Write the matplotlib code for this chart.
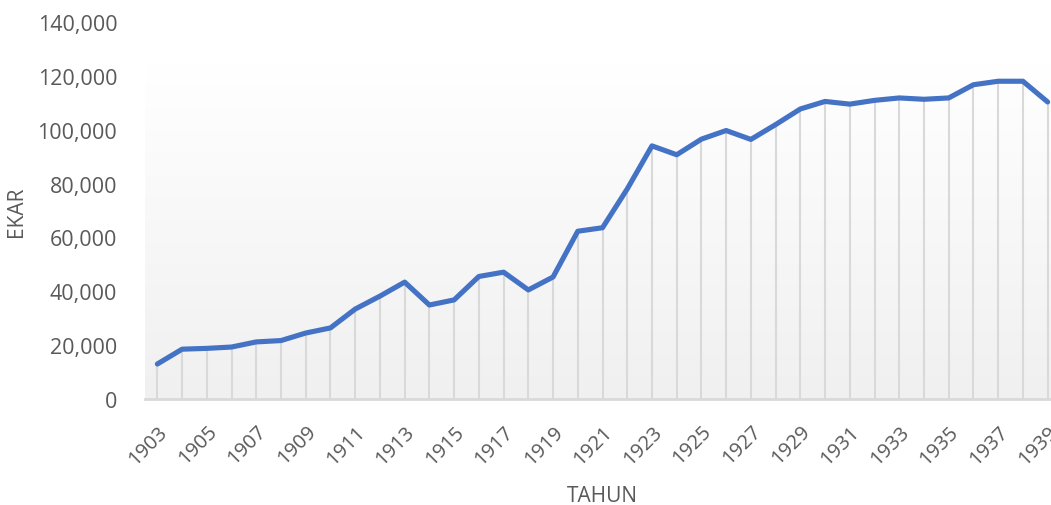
import numpy as np
import matplotlib
matplotlib.use('Agg')
import matplotlib.pyplot as plt
import matplotlib.transforms as mtransforms
from matplotlib.ticker import FuncFormatter
from matplotlib.colors import LinearSegmentedColormap

# data
years = list(range(1903, 1940))
ekar = [13000, 18500, 18800, 19300, 21200, 21700, 24500, 26400, 33400, 38200,
        43400, 34900, 36800, 45500, 47100, 40500, 45300, 62300, 63600, 78000,
        94000, 90700, 96500, 99700, 96400, 101900, 107700, 110500, 109500, 110900,
        111800, 111300, 111800, 116700, 118000, 118000, 110300]

tick_years = years[::2]

text_color = '#595959'
plt.rcParams['font.family'] = ['Open Sans', 'DejaVu Sans']

fig = plt.figure(figsize=(10.51, 5.06), dpi=100)
ax = fig.add_axes([145 / 1051, 1 - 400 / 506, 915 / 1051, 377 / 506])

# gradient plot area (white on top, light gray at bottom)
cmap = LinearSegmentedColormap.from_list('bg', ['#ffffff', '#f0f0f0'])
grad = np.linspace(0, 1, 256).reshape(-1, 1)
ax.imshow(grad, cmap=cmap, aspect='auto', extent=[1902.5, 1939.5, 0, 125000],
          origin='upper', zorder=0)

# drop lines from each point to the axis
ax.vlines(years, 0, ekar, color='#d9d9d9', linewidth=1.5, zorder=1)
ax.plot(years, ekar, color='#4472C4', linewidth=3.7, solid_joinstyle='round',
        solid_capstyle='round', zorder=3)

ax.set_xlim(1902.5, 1939.5)
ax.set_ylim(0, 140000)
ax.set_yticks(range(0, 140001, 20000))
ax.yaxis.set_major_formatter(FuncFormatter(lambda v, p: f'{int(v):,}'))
ax.set_xticks(tick_years)
ax.set_xticklabels([str(y) for y in tick_years], rotation=45, ha='right',
                   rotation_mode='anchor')

# nudge the rotated year labels a little to the right
shift = mtransforms.ScaledTranslation(5 / 100, 0, fig.dpi_scale_trans)
for lbl in ax.get_xticklabels():
    lbl.set_transform(lbl.get_transform() + shift)

for s in ['top', 'right', 'left']:
    ax.spines[s].set_visible(False)
ax.spines['bottom'].set_color('#d9d9d9')
ax.spines['bottom'].set_linewidth(2)
ax.spines['bottom'].set_zorder(2)

ax.tick_params(axis='both', length=0, colors=text_color)
ax.tick_params(axis='x', pad=16, labelsize=14.5)
ax.tick_params(axis='y', pad=20, labelsize=15.5)

ax.set_xlabel('TAHUN', color=text_color, fontsize=15, labelpad=12)
ax.set_ylabel('EKAR', color=text_color, fontsize=15)
ax.yaxis.set_label_coords(-118 / 915, 0.5)

fig.savefig('out.png', dpi=100, facecolor='white')
